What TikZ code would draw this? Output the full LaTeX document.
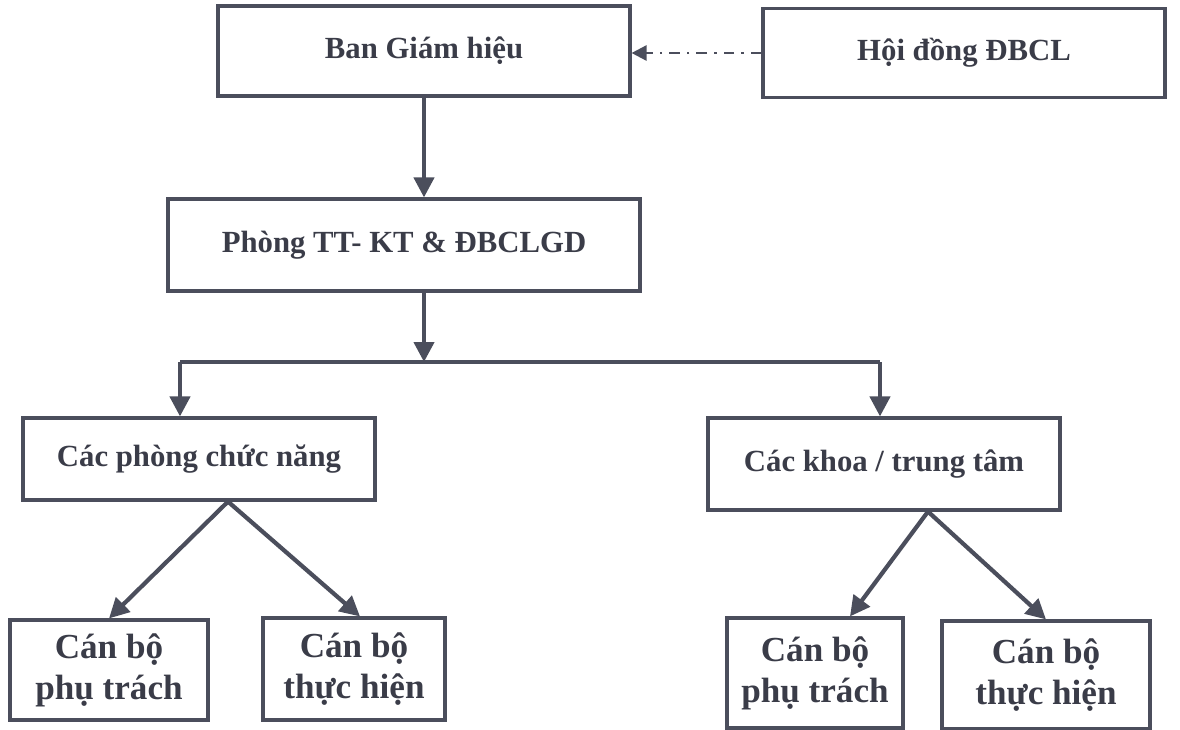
\documentclass[tikz,border=0pt]{standalone}
\usepackage{fontspec}
\setmainfont{Liberation Serif}
\usepackage{tikz}
\usetikzlibrary{arrows.meta,positioning}
\definecolor{ink}{HTML}{4B4E5C}
\definecolor{txt}{HTML}{3A3C48}

\begin{document}
\begin{tikzpicture}[
x=0.02cm, y=-0.02cm,
box/.style={draw=ink, line width=1.8pt, align=center, text=txt, font=\fontsize{17.5}{21}\selectfont\bfseries, inner sep=0pt},
small/.style={box, font=\fontsize{20}{23.5}\selectfont\bfseries},
arr/.style={-{Triangle[length=4mm,width=4mm]}, draw=ink, line width=2.4pt},
dsh/.style={-{Triangle[length=3mm,width=3mm]}, draw=ink, line width=1.4pt, dash pattern=on 6pt off 4pt on 1.5pt off 4pt}
]
\useasboundingbox (0,0) rectangle (1180,730);
\node[box, minimum width=8.24cm, minimum height=1.8cm] (ban) at (424,51) {Ban Giám hiệu};
\node[box, minimum width=8.04cm, minimum height=1.78cm] (hoidong) at (964,53) {Hội đồng ĐBCL};
\node[box, minimum width=9.44cm, minimum height=1.84cm] (phong) at (404,245) {Phòng TT- KT \& ĐBCLGD};
\node[box, minimum width=7.04cm, minimum height=1.64cm] (cacphong) at (199,459) {Các phòng chức năng};
\node[box, minimum width=7.04cm, minimum height=1.84cm] (cackhoa) at (884,464) {Các khoa / trung tâm};
\node[small, minimum width=3.96cm, minimum height=2cm] (cbpt1) at (109,670) {Cán bộ\\phụ trách};
\node[small, minimum width=3.64cm, minimum height=2.04cm] (cbth1) at (354,669) {Cán bộ\\thực hiện};
\node[small, minimum width=3.52cm, minimum height=2.2cm] (cbpt2) at (815,673) {Cán bộ\\phụ trách};
\node[small, minimum width=4.16cm, minimum height=2.16cm] (cbth2) at (1046,675) {Cán bộ\\thực hiện};
% branch points
\coordinate (split) at (424,362);
\coordinate (jl) at (180,362);
\coordinate (jr) at (880,362);
\draw[dsh] (hoidong.west) -- (hoidong.west -| ban.east);
\draw[arr] (ban.south) -- (ban.south |- phong.north);
\draw[arr] (phong.south -| split) -- (split);
\draw[draw=ink, line width=2.4pt] (jl) -- (jr);
\draw[arr] (jl) -- (jl |- cacphong.north);
\draw[arr] (jr) -- (jr |- cackhoa.north);
\draw[arr] ([xshift=0.58cm]cacphong.south) -- (cbpt1.north);
\draw[arr] ([xshift=0.58cm]cacphong.south) -- ([xshift=0.12cm]cbth1.north);
\draw[arr] ([xshift=0.88cm]cackhoa.south) -- ([xshift=0.7cm]cbpt2.north);
\draw[arr] ([xshift=0.88cm]cackhoa.south) -- (cbth2.north);
\end{tikzpicture}
\end{document}
